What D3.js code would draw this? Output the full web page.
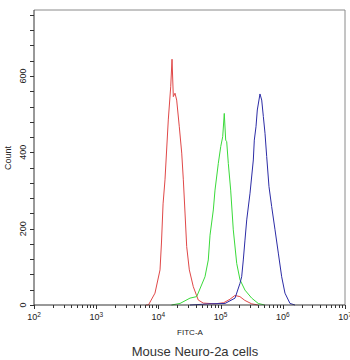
<!DOCTYPE html>
<html><head><meta charset="utf-8">
<script src="https://cdn.jsdelivr.net/npm/d3@7"></script>
<style>body{margin:0;background:#fff}svg{display:block}</style>
</head><body>
<svg id="c" width="350" height="360"></svg>
<script>
// log10(FITC-A) and Count for each histogram
const redLog   = [3.80,3.84,3.945,4.026,4.05,4.075,4.106,4.159,4.198,4.219,4.240,4.267,4.294,4.336,4.375,4.401,4.428,4.455,4.497,4.561,4.641,4.722,4.91,5.05,5.15,5.23,5.31,5.39,5.50,5.60];
const redCount = [0,0,31,92,165,265,328,485,572,644,546,555,537,467,398,328,241,153,92,48,13,5,3,6,15,25,22,12,3,0];
const greenLog   = [4.21,4.347,4.508,4.616,4.749,4.802,4.830,4.883,4.910,4.963,5.002,5.034,5.059,5.082,5.098,5.124,5.162,5.204,5.259,5.312,5.392,5.500,5.606,5.71];
const greenCount = [0,4,18,22,74,118,183,249,301,371,415,441,502,432,428,371,301,197,109,66,39,18,4,0];
const blueLog   = [4.508,4.83,5.07,5.232,5.312,5.339,5.365,5.392,5.420,5.473,5.526,5.542,5.569,5.590,5.633,5.661,5.687,5.714,5.741,5.778,5.821,5.875,5.928,5.982,6.035,6.116,6.196];
const blueCount = [0,3,4,18,57,74,118,170,223,293,380,432,467,511,553,537,494,450,389,310,258,197,136,74,31,4,0];
const xTickExp = [2,3,4,5,6,7];
const yTickVals = [0,200,400,600];
const yTitle = "Count";
const xTitle = "FITC-A";
const caption = "Mouse Neuro-2a cells";

const svg = d3.select("#c");
const L=34, R=345, T=10, B=305;
const x = d3.scaleLog().domain([1e2,1e7]).range([L,R]);
const y = d3.scaleLinear().domain([0,773]).range([B,T]);
const font = "Liberation Sans, Arial, sans-serif";

// frame top/right
svg.append("path").attr("d",`M${L},${T}H${R}V${B}`).attr("fill","none").attr("stroke","#8a8a8a").attr("stroke-width",1);

// curves
const series = [
  {lg:redLog, c:redCount, col:"#e04848"},
  {lg:greenLog, c:greenCount, col:"#3ada3a"},
  {lg:blueLog, c:blueCount, col:"#2c2ca6"}
];
const line = d3.line().x(d=>x(Math.pow(10,d[0]))).y(d=>y(d[1])).curve(d3.curveLinear);
series.forEach(s=>{
  const pts = s.lg.map((v,i)=>[v,s.c[i]]);
  svg.append("path").attr("d",line(pts)).attr("fill","none").attr("stroke",s.col).attr("stroke-width",1);
});

// x axis
const gx = svg.append("g").attr("transform",`translate(0,${B})`);
const minor = [];
for (let e=2;e<7;e++) for (let k=2;k<=9;k++) minor.push(k*Math.pow(10,e));
gx.append("line").attr("x1",L).attr("x2",R).attr("stroke","#333");
gx.selectAll(".mn").data(minor).enter().append("line")
  .attr("x1",d=>Math.round(x(d))+0.5).attr("x2",d=>Math.round(x(d))+0.5).attr("y1",0).attr("y2",3).attr("stroke","#333");
gx.selectAll(".mj").data(xTickExp).enter().append("line")
  .attr("x1",d=>Math.round(x(Math.pow(10,d)))+0.5).attr("x2",d=>Math.round(x(Math.pow(10,d)))+0.5).attr("y1",0).attr("y2",4).attr("stroke","#333");
const xl = gx.selectAll(".xl").data(xTickExp).enter().append("text")
  .attr("x",d=>x(Math.pow(10,d))).attr("y",15).attr("text-anchor","middle")
  .attr("font-family",font).attr("font-size",9).attr("fill","#222");
xl.append("tspan").text("10");
xl.append("tspan").attr("dy",-3).attr("font-size",6.5).text(d=>d);

// y axis
const gy = svg.append("g").attr("transform",`translate(${L},0)`);
gy.append("line").attr("y1",T).attr("y2",B).attr("stroke","#333");
const yMinor = d3.range(0,773,40);
gy.selectAll(".ym").data(yMinor).enter().append("line")
  .attr("x1",-4).attr("x2",0).attr("y1",d=>Math.round(y(d))+0.5).attr("y2",d=>Math.round(y(d))+0.5).attr("stroke","#333");
gy.selectAll(".yl").data(yTickVals).enter().append("text")
  .attr("transform",d=>`translate(-8,${y(d)}) rotate(-90)`).attr("text-anchor","middle")
  .attr("font-family",font).attr("font-size",9).attr("fill","#222").text(d=>d);

svg.append("text").attr("transform","translate(11,158) rotate(-90)").attr("text-anchor","middle")
  .attr("font-family",font).attr("font-size",9).attr("fill","#222").text(yTitle);
svg.append("text").attr("x",190).attr("y",335).attr("text-anchor","middle")
  .attr("font-family",font).attr("font-size",8).attr("fill","#222").text(xTitle);
svg.append("text").attr("x",195).attr("y",356).attr("text-anchor","middle")
  .attr("font-family",font).attr("font-size",13).attr("fill","#333").text(caption);
</script>
</body></html>
